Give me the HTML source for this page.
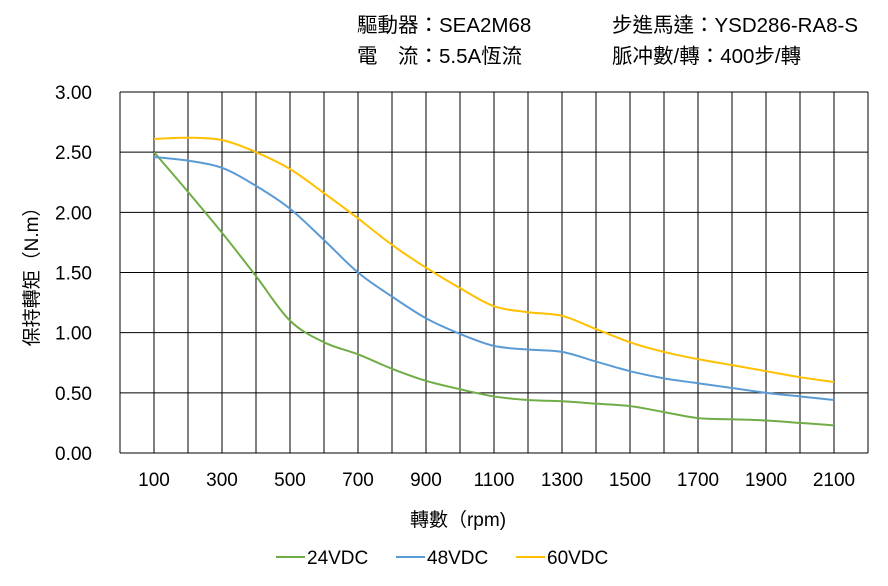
<!DOCTYPE html>
<html><head><meta charset="utf-8"><style>
body{margin:0;background:#fff;}
svg{display:block;font-family:"Liberation Sans","Noto Sans CJK TC",sans-serif;}
</style></head><body>
<svg id="chart" width="888" height="586">
<g font-size="20.5" fill="#000">
<text x="357" y="32">驅動器：SEA2M68</text>
<text x="357" y="63">電　流：5.5A恆流</text>
<text x="612" y="32">步進馬達：YSD286-RA8-S</text>
<text x="612" y="63">脈冲數/轉：400步/轉</text>
</g>
<g id="grid"></g>
<g id="yt" font-size="19" text-anchor="end"></g>
<g id="xt" font-size="19" text-anchor="middle"></g>
<g id="series"></g>
<text x="458" y="526" font-size="19" text-anchor="middle">轉數（rpm)</text>
<text transform="translate(38,272) rotate(-90)" font-size="19" text-anchor="middle">保持轉矩（N.m）</text>
<g id="legend" font-size="19"></g>
</svg>
<script>
const speeds=[100,200,300,400,500,600,700,800,900,1000,1100,1200,1300,1400,1500,1600,1700,1800,1900,2000,2100];
const v24=[2.50,2.17,1.83,1.47,1.10,0.92,0.82,0.70,0.60,0.53,0.47,0.44,0.43,0.41,0.39,0.34,0.29,0.28,0.27,0.25,0.23];
const v48=[2.46,2.43,2.37,2.22,2.03,1.77,1.50,1.30,1.12,0.99,0.89,0.86,0.84,0.76,0.68,0.62,0.58,0.54,0.50,0.47,0.44];
const v60=[2.61,2.62,2.60,2.50,2.36,2.16,1.95,1.73,1.54,1.37,1.22,1.17,1.14,1.03,0.92,0.84,0.78,0.73,0.68,0.63,0.59];
const yTicks=[0,0.5,1,1.5,2,2.5,3];
const xTicks=[100,300,500,700,900,1100,1300,1500,1700,1900,2100];
const seriesNames=["24VDC","48VDC","60VDC"];
const colors=["#70ad47","#5b9bd5","#ffc000"];
const NS="http://www.w3.org/2000/svg";
const X0=120,X1=868,Y0=453,Y1=92;
const xs=v=>X0+v/2200*(X1-X0);
const ys=v=>Y0-v/3*(Y0-Y1);
function mk(t,a,p){const e=document.createElementNS(NS,t);for(const k in a)e.setAttribute(k,a[k]);p.appendChild(e);return e;}
const grid=document.getElementById('grid');
for(let r=0;r<=2200;r+=100){const l=mk('line',{x1:xs(r),x2:xs(r),y1:Y1,y2:Y0,stroke:'#000','stroke-width':1},grid);

}
yTicks.forEach(v=>{const l=mk('line',{x1:X0,x2:X1,y1:ys(v),y2:ys(v),stroke:'#000','stroke-width':1},grid);


const t=mk('text',{x:92,y:ys(v)+7},document.getElementById('yt'));t.textContent=v.toFixed(2);

});
xTicks.forEach(v=>{const t=mk('text',{x:xs(v),y:486},document.getElementById('xt'));t.textContent=v;

});
function path(vals){const p=speeds.map((s,i)=>[xs(s),ys(vals[i])]);let d=`M${p[0][0]},${p[0][1]}`;
for(let i=0;i<p.length-1;i++){const a=p[i-1]||p[i],b=p[i],c=p[i+1],e=p[i+2]||c;
d+=` C${b[0]+(c[0]-a[0])/6},${b[1]+(c[1]-a[1])/6} ${c[0]-(e[0]-b[0])/6},${c[1]-(e[1]-b[1])/6} ${c[0]},${c[1]}`;}return d;}
const sg=document.getElementById('series');
[v24,v48,v60].forEach((vals,i)=>{const e=mk('path',{d:path(vals),fill:'none',stroke:colors[i],'stroke-width':2},sg);

});
const lg=document.getElementById('legend');
[276,396,516].forEach((x,i)=>{const l=mk('line',{x1:x,x2:x+29,y1:557,y2:557,stroke:colors[i],'stroke-width':2},lg);


const t=mk('text',{x:x+31,y:564},lg);t.textContent=seriesNames[i];

});
</script>
</body></html>
